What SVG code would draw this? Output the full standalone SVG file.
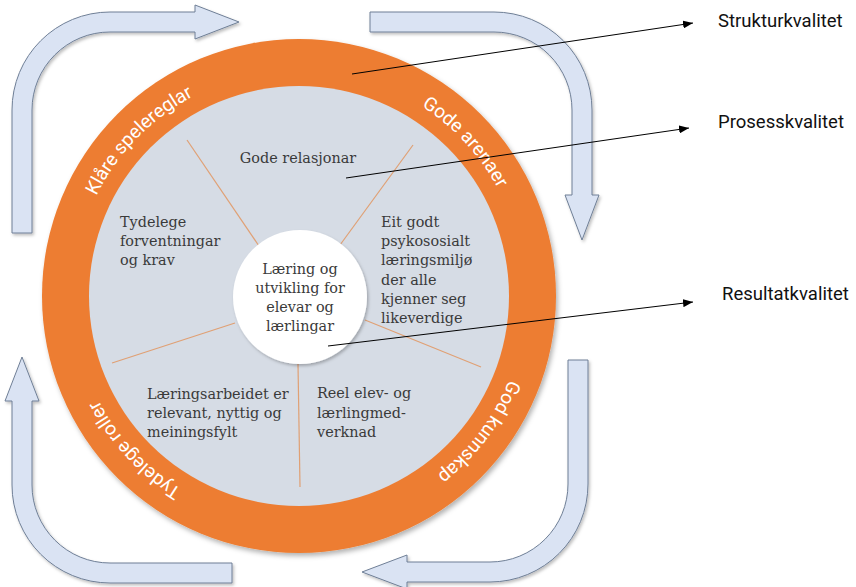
<svg xmlns="http://www.w3.org/2000/svg" width="856" height="587" viewBox="0 0 856 587">
  <defs>
    <filter id="shadow" x="-10%" y="-10%" width="125%" height="125%">
      <feDropShadow dx="2" dy="3" stdDeviation="2.5" flood-color="#000" flood-opacity="0.3"/>
    </filter>
    <filter id="shadowSoft" x="-10%" y="-10%" width="125%" height="125%">
      <feDropShadow dx="1.5" dy="2" stdDeviation="1.5" flood-color="#000" flood-opacity="0.25"/>
    </filter>
    <marker id="arrow" viewBox="0 0 10 8" refX="10" refY="4" markerWidth="10" markerHeight="8" markerUnits="userSpaceOnUse" orient="auto">
      <path d="M0,0 L10,4 L0,8 Z" fill="#000"/>
    </marker>
    <path id="ringPath" d="M 299,70 A 226 226 0 1 1 299,522 A 226 226 0 1 1 299,70"/>
  </defs>
  <style>
    .blockArrow { fill: #DAE3F3; stroke: #6F7F96; stroke-width: 1; }
    .spoke { stroke: #E0A074; stroke-width: 1.2; fill: none; }
    .body { font-family: "DejaVu Serif", "Liberation Serif", serif; font-size: 14.4px; fill: #3a3a3a; }
    .ring { font-family: Roboto, "Liberation Sans", sans-serif; font-size: 19px; fill: #ffffff; }
    .label { font-family: Roboto, "Liberation Sans", sans-serif; font-size: 18.5px; fill: #111111; }
    .pointer { stroke: #000; stroke-width: 1; fill: none; }
  </style>

  <g id="cycle-arrows" filter="url(#shadowSoft)">
    <path id="arrow-top-left" class="blockArrow" d="M 12,233 L 12,110 A 98 98 0 0 1 110,12 L 195,12 L 195,5 L 239,22 L 195,39 L 195,32 L 110,32 A 78 78 0 0 0 32,110 L 32,233 Z"/>
    <path id="arrow-top-right" class="blockArrow" d="M 370,12 L 494,12 A 98 98 0 0 1 592,110 L 592,195 L 599,195 L 582,240 L 565,195 L 572,195 L 572,110 A 78 78 0 0 0 494,32 L 370,32 Z"/>
    <path id="arrow-bottom-right" class="blockArrow" d="M 568,360 L 588,360 L 588,484 A 98 98 0 0 1 490,582 L 407,582 L 407,589 L 362,572 L 407,555 L 407,562 L 490,562 A 78 78 0 0 0 568,484 Z"/>
    <path id="arrow-bottom-left" class="blockArrow" d="M 232,563 L 232,583 L 110,583 A 98 98 0 0 1 12,485 L 12,401 L 5,401 L 22,357 L 39,401 L 32,401 L 32,485 A 78 78 0 0 0 110,563 Z"/>
  </g>

  <g id="outer-ring">
    <circle cx="299" cy="296" r="257" fill="#ED7D31" filter="url(#shadow)"/>
    <text class="ring"><textPath href="#ringPath" startOffset="87.28%" text-anchor="middle">Klåre spelereglar</textPath></text>
    <text class="ring"><textPath href="#ringPath" startOffset="13.11%" text-anchor="middle">Gode arenaer</textPath></text>
    <text class="ring"><textPath href="#ringPath" startOffset="35.28%" text-anchor="middle">God kunnskap</textPath></text>
    <text class="ring"><textPath href="#ringPath" startOffset="63.03%" text-anchor="middle">Tydelege roller</textPath></text>
  </g>

  <g id="inner-disc">
    <circle cx="299" cy="296" r="210" fill="#D6DCE5"/>
    <g id="spokes">
      <line class="spoke" x1="187" y1="140" x2="259" y2="246"/>
      <line class="spoke" x1="413" y1="145" x2="340" y2="245"/>
      <line class="spoke" x1="112" y1="363" x2="235" y2="323"/>
      <line class="spoke" x1="365" y1="320" x2="481" y2="367"/>
      <line class="spoke" x1="298" y1="364" x2="300" y2="487"/>
    </g>
  </g>

  <g id="sector-relasjonar">
    <text class="body" x="298" y="163" text-anchor="middle">Gode relasjonar</text>
  </g>
  <g id="sector-forventningar">
    <text class="body" x="120" y="227">Tydelege</text>
    <text class="body" x="120" y="246">forventningar</text>
    <text class="body" x="120" y="265">og krav</text>
  </g>
  <g id="sector-miljo">
    <text class="body" x="381" y="227">Eit godt</text>
    <text class="body" x="381" y="246">psykososialt</text>
    <text class="body" x="381" y="265">læringsmiljø</text>
    <text class="body" x="381" y="285">der alle</text>
    <text class="body" x="381" y="304">kjenner seg</text>
    <text class="body" x="381" y="323">likeverdige</text>
  </g>
  <g id="sector-arbeid">
    <text class="body" x="147" y="399">Læringsarbeidet er</text>
    <text class="body" x="147" y="418">relevant, nyttig og</text>
    <text class="body" x="147" y="437">meiningsfylt</text>
  </g>
  <g id="sector-medverknad">
    <text class="body" x="317" y="398">Reel elev- og</text>
    <text class="body" x="317" y="417.5">lærlingmed-</text>
    <text class="body" x="317" y="437">verknad</text>
  </g>

  <g id="center">
    <circle cx="300" cy="297" r="67" fill="#FFFFFF" filter="url(#shadowSoft)"/>
    <text class="body" x="300" y="274" text-anchor="middle">Læring og</text>
    <text class="body" x="300" y="293" text-anchor="middle">utvikling for</text>
    <text class="body" x="300" y="312" text-anchor="middle">elevar og</text>
    <text class="body" x="300" y="331" text-anchor="middle">lærlingar</text>
  </g>

  <g id="connectors">
    <line class="pointer" x1="352" y1="74" x2="693" y2="23" marker-end="url(#arrow)"/>
    <line class="pointer" x1="346" y1="178" x2="689" y2="128" marker-end="url(#arrow)"/>
    <line class="pointer" x1="328" y1="346" x2="693" y2="302" marker-end="url(#arrow)"/>
  </g>

  <g id="label-struktur">
    <text class="label" x="718" y="27">Strukturkvalitet</text>
  </g>
  <g id="label-prosess">
    <text class="label" x="718" y="128">Prosesskvalitet</text>
  </g>
  <g id="label-resultat">
    <text class="label" x="722" y="300">Resultatkvalitet</text>
  </g>
</svg>
